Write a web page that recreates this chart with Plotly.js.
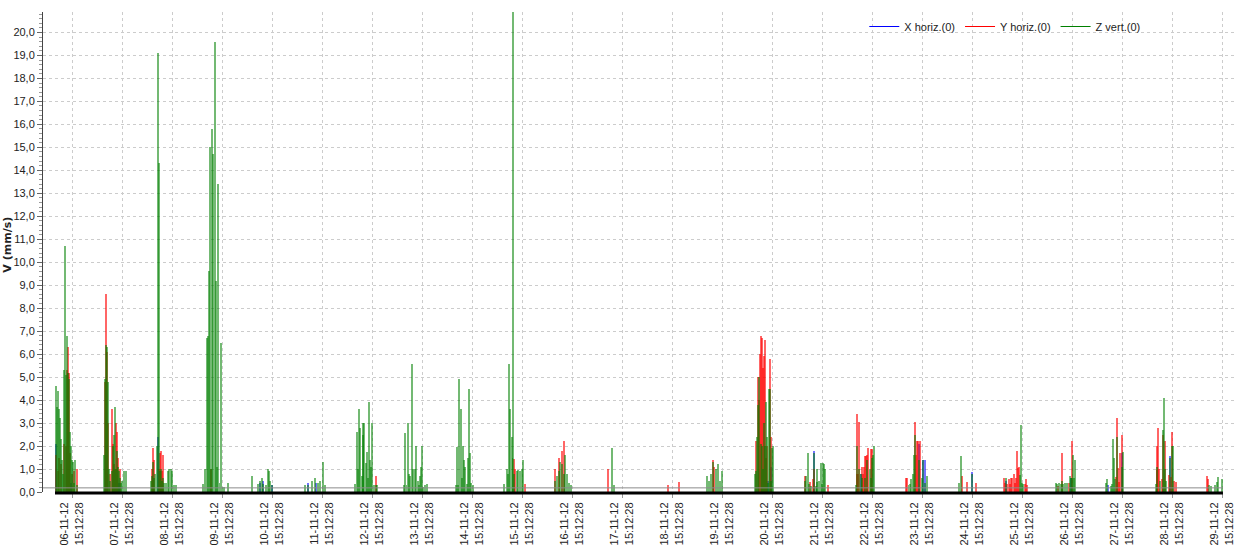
<!DOCTYPE html>
<html>
<head>
<meta charset="utf-8">
<script src="https://cdn.plot.ly/plotly-3.0.1.min.js"></script>
<style>html,body{margin:0;padding:0;background:#fff;}#chart{width:1240px;height:557px;}</style>
</head>
<body>
<div id="chart"></div>
<script>
// ---- DATA ----
const dayDates = ['2012-11-06','2012-11-07','2012-11-08','2012-11-09','2012-11-10','2012-11-11','2012-11-12','2012-11-13',
  '2012-11-14','2012-11-15','2012-11-16','2012-11-17','2012-11-18','2012-11-19','2012-11-20','2012-11-21',
  '2012-11-22','2012-11-23','2012-11-24','2012-11-25','2012-11-26','2012-11-27','2012-11-28','2012-11-29'];

const tickValues = ['2012-11-06 15:12:28','2012-11-07 15:12:28','2012-11-08 15:12:28','2012-11-09 15:12:28','2012-11-10 15:12:28',
  '2012-11-11 15:12:28','2012-11-12 15:12:28','2012-11-13 15:12:28','2012-11-14 15:12:28','2012-11-15 15:12:28',
  '2012-11-16 15:12:28','2012-11-17 15:12:28','2012-11-18 15:12:28','2012-11-19 15:12:28','2012-11-20 15:12:28',
  '2012-11-21 15:12:28','2012-11-22 15:12:28','2012-11-23 15:12:28','2012-11-24 15:12:28','2012-11-25 15:12:28',
  '2012-11-26 15:12:28','2012-11-27 15:12:28','2012-11-28 15:12:28','2012-11-29 15:12:28'];
const tickLabels = ['06-11-12<br>15:12:28','07-11-12<br>15:12:28','08-11-12<br>15:12:28','09-11-12<br>15:12:28','10-11-12<br>15:12:28',
  '11-11-12<br>15:12:28','12-11-12<br>15:12:28','13-11-12<br>15:12:28','14-11-12<br>15:12:28','15-11-12<br>15:12:28',
  '16-11-12<br>15:12:28','17-11-12<br>15:12:28','18-11-12<br>15:12:28','19-11-12<br>15:12:28','20-11-12<br>15:12:28',
  '21-11-12<br>15:12:28','22-11-12<br>15:12:28','23-11-12<br>15:12:28','24-11-12<br>15:12:28','25-11-12<br>15:12:28',
  '26-11-12<br>15:12:28','27-11-12<br>15:12:28','28-11-12<br>15:12:28','29-11-12<br>15:12:28'];

const seriesNames = ['X horiz.(0)', 'Y horiz.(0)', 'Z vert.(0)'];
const recordStart = '2012-11-06 07:03';
const recordEnd = '2012-11-29 15:40';

// Z vert. : event hours per day and peak values (mm/s)
const zHours = [
  [7.53,8.01,8.49,8.97,9.45,9.93,10.41,10.89,11.37,11.85,12.33,12.81,13.29,13.77,14.25,14.73,15.21,15.69,16.17,16.65,17.61],
  [6.57,7.05,7.53,8.01,8.49,8.97,9.45,10.41,10.89,11.37,11.85,12.33,12.81,13.29,13.77,14.25,14.73,15.21,16.17,17.13],
  [5.13,5.61,6.09,6.57,7.05,8.01,8.49,8.97,9.45,9.93,10.41,10.89,11.37,12.33,13.29,13.77,14.73,15.21,16.17,17.13],
  [6.09,7.05,7.87,8.35,8.83,9.31,9.93,10.55,11.03,11.71,12.19,12.81,13.43,14.01,14.73,15.45,16.17,18.09],
  [5.61,8.49,9.45,10.41,10.89,12.33,13.29,13.77,14.25,15.21],
  [7.05,8.49,10.41,11.85,13.29,14.25,15.69,16.65],
  [7.05,7.87,8.35,8.83,9.45,10.27,10.75,11.03,11.51,12.19,12.81,13.43,13.91,14.25,14.87,15.35,16.31,17.13,17.75],
  [6.57,7.19,7.77,8.49,8.97,9.45,10.55,11.03,11.85,12.33,13.15,13.63,14.1,14.73,15.21,15.83,16.79,17.47],
  [7.39,8.15,8.63,9.11,9.79,10.41,11.03,11.51,11.99,12.67,13.15,13.63,14.1,14.73,15.69],
  [6.71,7.87,8.35,9.11,9.59,10.27,10.65,11.03,11.51,12.67,13.43,14.25,15.07,15.55],
  [7.05,8.01,8.97,9.45,10.41,11.37,11.85,12.81,13.77,14.73],
  [10.41,11.37],
  [],
  [8.01,8.97,9.93,10.89,12.33,13.29,14.25,15.21],
  [7.19,7.53,8.15,8.63,9.11,9.93,10.41,10.89,11.37,11.85,12.33,12.95,13.43,13.91,14.39,14.87,15.35,15.83],
  [7.19,7.67,8.35,8.97,10.0,11.51,12.19,12.67,12.95,13.63,14.59,15.07,15.69,16.17,16.65],
  [7.53,8.15,9.11,9.79,10.27,11.85,12.81,14.1,14.59,15.07,15.55,16.17],
  [8.78,9.45,10.07,10.75,11.23,11.71,13.91,15.07,15.83,16.65,17.47],
  [8.97,9.79,15.35],
  [7.67,14.25,14.87,15.35,15.83],
  [7.39,7.87,9.11,9.79,10.41,11.03,11.85,12.95,14.25,14.73,15.21,15.69,16.17,16.65],
  [7.39,8.01,9.79,10.41,10.75,11.23,11.71,12.67,15.35,15.83],
  [7.39,8.15,9.59,11.03,11.51,11.99,12.47,14.1,15.07,15.69],
  [8.97,9.93,11.99,12.67,13.43,15.07]
];
const zValues = [
  [4.6,3.7,4.4,3.6,3.2,2.3,1.4,0.8,5.3,10.7,5.1,6.8,5.2,4.9,2.6,2.0,1.4,1.3,0.4,1.4,0.3],
  [1.6,4.9,6.4,6.3,4.8,1.0,0.5,0.9,2.0,2.5,3.7,1.0,1.8,1.1,0.9,0.6,0.4,0.5,0.9,0.9],
  [0.5,0.7,1.3,0.6,0.8,2.0,19.1,14.3,0.9,1.0,0.5,0.6,0.4,0.4,0.9,1.0,1.0,0.9,0.3,0.3],
  [0.35,1.0,6.7,6.8,9.6,15.0,1.0,15.8,14.7,19.6,9.2,1.1,13.4,0.4,6.5,0.2,0.2,0.4],
  [0.7,0.35,0.5,0.6,0.35,0.3,1.0,0.9,0.5,0.3],
  [0.3,0.3,0.5,0.6,0.4,0.5,1.3,0.3],
  [0.35,2.6,1.0,3.6,2.8,0.7,2.5,3.0,3.0,1.25,1.75,0.6,3.9,1.4,1.1,3.0,0.3,0.3,0.3],
  [0.3,2.55,0.3,3.0,0.8,0.7,5.55,1.0,1.0,2.0,0.5,0.3,0.7,1.1,2.0,0.2,0.3,0.35],
  [0.3,1.95,0.3,4.9,3.6,0.6,2.0,1.4,1.1,0.35,1.5,4.5,1.7,0.4,0.3],
  [0.35,1.0,0.8,5.55,3.6,2.4,1.5,24,0.8,0.9,0.95,0.9,1.0,1.4],
  [0.5,0.7,0.9,1.3,1.2,0.8,1.6,0.8,0.4,0.3],
  [1.9,0.3],
  [],
  [0.7,0.5,0.8,1.3,1.0,1.2,0.5,0.9],
  [0.8,0.9,2.4,3.8,5.0,2.1,2.0,1.0,3.0,2.0,3.9,2.4,0.4,4.5,4.5,0.5,1.9,2.0],
  [0.5,0.7,1.7,0.35,0.25,1.7,0.25,0.45,1.0,0.5,1.25,0.35,1.25,1.2,1.0],
  [0.3,2.0,1.0,0.8,0.6,0.6,1.4,1.0,0.6,1.5,1.6,2.0],
  [0.3,0.35,0.55,0.8,1.6,2.5,1.4,0.6,1.4,0.4,0.7],
  [0.4,1.55,0.8],
  [0.6,0.75,2.9,0.4,0.35],
  [0.4,0.35,0.4,0.35,0.5,0.35,0.4,0.4,0.7,0.6,0.6,1.6,0.6,1.4],
  [0.4,0.55,0.25,0.35,2.3,1.5,0.55,2.4,1.1,1.75],
  [0.35,1.1,0.5,2.7,4.1,1.0,0.5,1.5,2.0,2.0],
  [0.3,0.25,0.3,0.45,0.65,0.55]
];

// Y horiz.
const yHours = [
  [7.53,8.49,8.97,9.93,11.37,12.33,12.81,13.29,13.77,14.25,15.21,16.17,17.61],
  [7.05,7.53,8.01,8.49,9.45,10.41,10.89,11.37,11.85,12.33,12.81,13.29,14.25],
  [5.61,6.09,6.57,8.97,9.45,9.93,10.41,10.89],
  [9.93],
  [],
  [],
  [17.13],
  [],
  [],
  [11.51,11.99,16.65],
  [7.05,8.97,10.41,11.37],
  [8.49],
  [13.29,18.57],
  [10.89,11.37],
  [7.53,8.63,9.11,9.45,9.93,10.41,10.89,11.37,11.85,12.33,12.95,14.39,14.87],
  [7.19,9.45,10.75,11.23,18.23],
  [7.87,8.15,8.63,9.11,10.27,10.89,11.37,11.85,12.33,12.81,13.43,14.59,15.07],
  [7.53,8.15,11.71,12.19,12.81,13.43,14.39],
  [10.41,12.67,17.13],
  [6.57,7.19,8.15,8.83,9.45,9.93,10.55,11.23,11.71,12.33,12.81,13.29,13.77,16.5,16.99,17.47],
  [8.63,10.41,13.63,15.21],
  [12.19,12.67,13.29,13.77,14.39,15.35],
  [7.87,8.15,8.63,9.11,10.55,11.03,11.99,13.63,14.59,15.07,16.31,16.99],
  [7.87,8.35]
];
const yValues = [
  [1.6,0.9,1.5,1.2,2.1,2.0,5.3,6.3,5.2,1.7,0.8,0.9,1.0],
  [4.8,8.6,6.1,3.0,0.8,3.6,2.1,1.2,1.0,3.0,2.6,1.5,1.0],
  [1.0,1.9,1.4,1.0,1.7,1.8,0.9,1.6],
  [1.0],
  [],
  [],
  [0.7],
  [],
  [],
  [1.45,1.0,0.35],
  [1.0,1.5,1.8,2.2],
  [1.0],
  [0.3,0.45],
  [1.4,1.1],
  [2.2,5.0,4.0,6.0,6.8,6.7,5.4,5.9,6.6,1.5,2.0,5.8,2.4],
  [0.7,0.45,0.55,1.0,0.3],
  [0.8,3.4,0.8,3.05,1.1,0.8,1.1,1.55,1.55,1.6,1.9,1.85,1.85],
  [0.6,0.6,3.05,1.6,2.2,2.2,2.2],
  [0.7,0.45,0.4],
  [0.6,0.4,0.35,0.55,0.35,0.6,0.6,0.8,0.4,0.6,1.8,1.05,1.1,0.35,0.55,0.3],
  [0.25,1.7,0.4,2.2],
  [0.65,3.2,1.05,0.45,1.7,2.5],
  [0.95,2.0,2.8,1.0,0.55,2.5,2.2,0.75,0.65,2.6,0.5,0.45],
  [0.7,0.55]
];

// X horiz.
const xHours = [
  [7.53,14.73],[13.77],[8.49],[],[9.45,10.89,15.21],[8.49,12.33],[],[],[],[],[],[],[],[],
  [13.43,14.87],[11.51],[9.79],[13.91,15.83,16.65],[15.35],[7.67],[14.73],[8.63,15.35],[14.1],[]
];
const xValues = [
  [2.1,0.4],[0.4],[2.4],[],[0.4,0.5,0.3],[0.4,0.4],[],[],[],[],[],[],[],[],
  [0.5,1.1],[1.8],[0.8],[2.1,1.4,1.4],[0.85],[0.5],[0.6],[0.3,1.7],[1.55],[]
];

// ---- BUILD ----
function toPoints(hours, values) {
  const xs = [], ys = [];
  for (let i = 0; i < dayDates.length; i++) {
    const dayStart = Date.parse(dayDates[i] + 'T00:00:00Z');
    hours[i].forEach((h, j) => { xs.push(dayStart + h * 3600000); ys.push(values[i][j]); });
  }
  return {xs, ys};
}

const colorsSolid = ['#0000ff', '#ff0000', '#008000'];
const colorsFill = ['rgba(0,0,255,0.55)', 'rgba(255,0,0,0.6)', 'rgba(0,128,0,0.55)'];
const barWidthMs = 50 * 60 * 1000;

const sets = [toPoints(xHours, xValues), toPoints(yHours, yValues), toPoints(zHours, zValues)];
const traces = [];
sets.forEach((s, k) => {
  traces.push({
    type: 'bar', x: s.xs, y: s.ys, width: barWidthMs,
    marker: {color: colorsFill[k], line: {width: 0}},
    showlegend: false, hoverinfo: 'skip', name: seriesNames[k]
  });
});
seriesNames.forEach((n, k) => {
  traces.push({type: 'scatter', mode: 'lines', x: [null], y: [null], name: n,
    line: {color: colorsSolid[k], width: 1}, hoverinfo: 'skip'});
});

const gridCol = '#cccccc';
const layout = {
  width: 1240, height: 557,
  margin: {l: 43, r: 5, t: 12, b: 65},
  paper_bgcolor: '#ffffff', plot_bgcolor: '#ffffff',
  separators: ',.',
  font: {family: '"Liberation Sans", Arial, sans-serif', size: 11, color: '#222222'},
  barmode: 'overlay', bargap: 0,
  showlegend: true,
  legend: {orientation: 'h', x: 0.689, xanchor: 'left', y: 1.0, yanchor: 'top',
    bgcolor: 'rgba(0,0,0,0)', font: {size: 11, color: '#222'}, traceorder: 'normal'},
  xaxis: {
    type: 'date', range: ['2012-11-06 01:17', '2012-11-29 21:27'],
    tickmode: 'array', tickvals: tickValues, ticktext: tickLabels, tickangle: -90,
    ticks: 'outside', ticklen: 5, tickcolor: '#999999',
    showgrid: true, gridcolor: gridCol, griddash: 'dot', gridwidth: 1,
    showline: false, zeroline: false, automargin: false,
    tickfont: {size: 11, color: '#222'}
  },
  yaxis: {
    range: [0, 20.89], tick0: 0, dtick: 1, tickformat: '.1f',
    ticks: 'outside', ticklen: 5, tickcolor: '#666666',
    showline: true, linecolor: '#444444', linewidth: 1,
    showgrid: true, gridcolor: gridCol, griddash: 'dot', gridwidth: 1,
    zeroline: false, automargin: false,
    minor: {dtick: 0.2, ticks: 'outside', ticklen: 3, tickcolor: '#999999', showgrid: false},
    tickfont: {size: 11, color: '#222'}
  },
  shapes: [
    {type: 'line', xref: 'x', yref: 'y', x0: '2012-11-06 01:17', x1: recordEnd, y0: 0.18, y1: 0.18,
      line: {color: '#8c8c8c', width: 1}, layer: 'above'},
    {type: 'line', xref: 'x', yref: 'paper', x0: recordStart, x1: recordEnd, y0: -0.002, y1: -0.002,
      line: {color: '#000000', width: 3}, layer: 'above'}
  ],
  annotations: [
    {text: '<b>V (mm/s)</b>', xref: 'paper', yref: 'paper', x: -0.0295, y: 0.515,
      xanchor: 'center', yanchor: 'middle', textangle: -90, showarrow: false,
      font: {family: '"DejaVu Sans", sans-serif', size: 11, color: '#222'}}
  ]
};

Plotly.newPlot('chart', traces, layout, {displayModeBar: false, staticPlot: true});
</script>
</body>
</html>
